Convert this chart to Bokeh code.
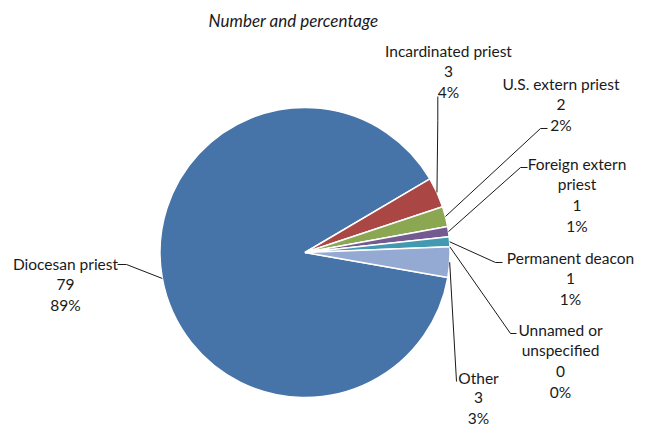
import numpy as np
from bokeh.plotting import figure
from bokeh.models import Range1d, ColumnDataSource, CDSView, IndexFilter
from bokeh.embed import file_html
from bokeh.resources import INLINE
from bokeh.core.properties import value

# ---- data ----
categories = ["Diocesan priest", "Incardinated priest", "U.S. extern priest",
              "Foreign extern priest", "Permanent deacon", "Unnamed or unspecified", "Other"]
counts = [79, 3, 2, 1, 1, 0, 3]
percent_labels = ["89%", "4%", "2%", "1%", "1%", "0%", "3%"]
label_lines = [["Diocesan priest"], ["Incardinated priest"], ["U.S. extern priest"],
               ["Foreign extern", "priest"], ["Permanent deacon"], ["Unnamed or", "unspecified"], ["Other"]]
colors = ["#4674A8", "#AA4644", "#8BA752", "#735A91", "#4299B0", "#F59D56", "#95AAD2"]
title = "Number and percentage"

# ---- layout (page pixel coordinates, y down) ----
W, H = 645, 428
PAGE_H = 428
cx, cy, R = 304.5, 252.0, 145.0
start_deg = -9.9           # first slice begins here, slices run clockwise
FONT = "Lato"
FS = "15.5px"
LINE_H = 20.8
# label block: (center x, first line y), leader: (elbow, end)
label_pos = [(65, 263), (448, 50), (560.5, 83), (576.5, 163), (570, 257), (560, 329), (478, 377)]
leader_pts = [((126, 264), (117, 264)),
              ((437.3, 120), (437.3, 96)),
              ((540, 128), (547, 128)),
              ((520, 167), (527, 167)),
              ((495, 262), (502, 262)),
              ((510, 333), (516, 333)),
              ((456, 381), (456, 381))]

def Y(y):
    return PAGE_H - y

p = figure(width=W, height=H, output_backend="svg", toolbar_location=None,
           x_range=Range1d(0, W), y_range=Range1d(PAGE_H - H, PAGE_H),
           min_border=0)
p.axis.visible = False
p.grid.visible = False
p.outline_line_color = None
p.background_fill_color = "white"

total = float(sum(counts))
cum = np.concatenate([[0], np.cumsum(counts)]) / total * 360.0
a_start = start_deg - cum[:-1]      # clockwise start
a_end = start_deg - cum[1:]         # clockwise end
mid = (a_start + a_end) / 2.0

src = ColumnDataSource(dict(
    x=[cx] * len(counts), y=[Y(cy)] * len(counts),
    s=list(np.radians(a_end)), e=list(np.radians(a_start)),
    c=colors, n=counts))
view_idx = [i for i, v in enumerate(counts) if v > 0]
p.wedge(x="x", y="y", radius=R, start_angle="s", end_angle="e", direction="anticlock",
        fill_color="c", line_color="white", line_width=1.5, source=src,
        view=CDSView(filter=IndexFilter(view_idx)))

# leader lines
for i in range(len(counts)):
    ex = cx + R * np.cos(np.radians(mid[i]))
    ey = cy - R * np.sin(np.radians(mid[i]))
    (bx, by), (tx, ty) = leader_pts[i]
    p.line([ex, bx, tx], [Y(ey), Y(by), Y(ty)], line_color="#1a1a1a", line_width=1)

# labels
tx, ty, tt = [], [], []
for i in range(len(counts)):
    lines = label_lines[i] + [str(counts[i]), percent_labels[i]]
    x0, y0 = label_pos[i]
    lh = LINE_H if i != 6 else 20.0
    for k, t in enumerate(lines):
        tx.append(x0)
        ty.append(Y(y0 + k * lh))
        tt.append(t)
p.text(x=tx, y=ty, text=tt, text_align="center", text_baseline="middle",
       text_font=value(FONT), text_font_size=FS, text_color="#1a1a1a")

p.text(x=[293], y=[Y(20)], text=[title], text_align="center", text_baseline="middle",
       text_font=value(FONT), text_font_size="17px", text_font_style="italic",
       text_color="#1a1a1a")

open("out.html", "w").write(file_html(p, INLINE))
